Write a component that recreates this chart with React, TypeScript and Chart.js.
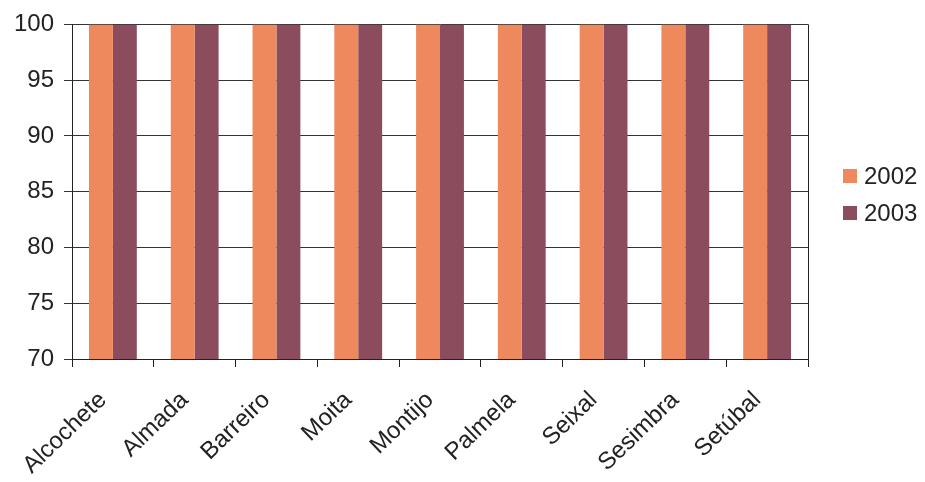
import React, { useEffect, useRef } from "react";
import { Chart, registerables } from "chart.js";

Chart.register(...registerables);

const categories = ["Alcochete", "Almada", "Barreiro", "Moita", "Montijo", "Palmela", "Seixal", "Sesimbra", "Setúbal"];
const series2002 = [100, 100, 100, 100, 100, 100, 100, 100, 100];
const series2003 = [100, 100, 100, 100, 100, 100, 100, 100, 100];
const seriesLabels = ["2002", "2003"];
const seriesColors = ["#EE895D", "#8B4C5D"];
const yMin = 70;
const yMax = 100;
const yStep = 5;

const FONT = "'Liberation Sans', Arial, sans-serif";
const INK = "#222222";

const extrasPlugin = {
  id: "extras",
  afterDraw(chart: any) {
    const { ctx, chartArea } = chart;
    ctx.save();
    ctx.strokeStyle = INK;
    ctx.lineWidth = 1;
    ctx.beginPath();
    ctx.moveTo(Math.round(chartArea.right) + 0.5, chartArea.top);
    ctx.lineTo(Math.round(chartArea.right) + 0.5, chartArea.bottom);
    ctx.stroke();
    const ds = chart.data.datasets;
    const x0 = chartArea.right + 35;
    const rowH = 37;
    ctx.font = `24px ${FONT}`;
    ctx.textBaseline = "middle";
    ctx.textAlign = "left";
    ds.forEach((d: any, i: number) => {
      const cy = 176 + i * rowH;
      ctx.fillStyle = d.backgroundColor;
      ctx.fillRect(x0, cy - 7, 14, 14);
      ctx.fillStyle = INK;
      ctx.fillText(d.label, x0 + 21, cy + 1);
    });
    ctx.restore();
  },
};

export default function App() {
  const ref = useRef<HTMLCanvasElement | null>(null);
  useEffect(() => {
    if (!ref.current) return;
    const chart = new Chart(ref.current, {
      type: "bar",
      data: {
        labels: categories,
        datasets: [
          { label: seriesLabels[0], data: series2002, backgroundColor: seriesColors[0] },
          { label: seriesLabels[1], data: series2003, backgroundColor: seriesColors[1] },
        ],
      },
      options: {
        animation: false,
        responsive: false,
        devicePixelRatio: 1,
        layout: { padding: { left: 0, right: 117, top: 24, bottom: 0 } },
        datasets: { bar: { categoryPercentage: 0.585, barPercentage: 1 } },
        plugins: { legend: { display: false }, tooltip: { enabled: false } },
        scales: {
          x: {
            afterFit: (s: any) => { s.height = 123; },
            grid: { offset: true, drawOnChartArea: false, drawTicks: true, tickLength: 8, color: INK, lineWidth: 1 },
            border: { display: true, color: INK, width: 1 },
            ticks: { color: INK, font: { family: FONT, size: 24 }, maxRotation: 44, minRotation: 44, padding: 19, labelOffset: -10, autoSkip: false },
          },
          y: {
            min: yMin,
            max: yMax,
            afterFit: (s: any) => { s.width = 72; },
            grid: { color: "#333333", lineWidth: 1, tickLength: 8 },
            border: { display: true, color: INK, width: 1 },
            ticks: { stepSize: yStep, color: INK, font: { family: FONT, size: 24 }, padding: 10 },
          },
        },
      },
      plugins: [extrasPlugin],
    });
    return () => chart.destroy();
  }, []);
  return (
    <div style={{ position: "fixed", left: 0, top: 0, width: 925, height: 482, background: "#fff" }}>
      <canvas ref={ref} width={925} height={482} />
    </div>
  );
}
